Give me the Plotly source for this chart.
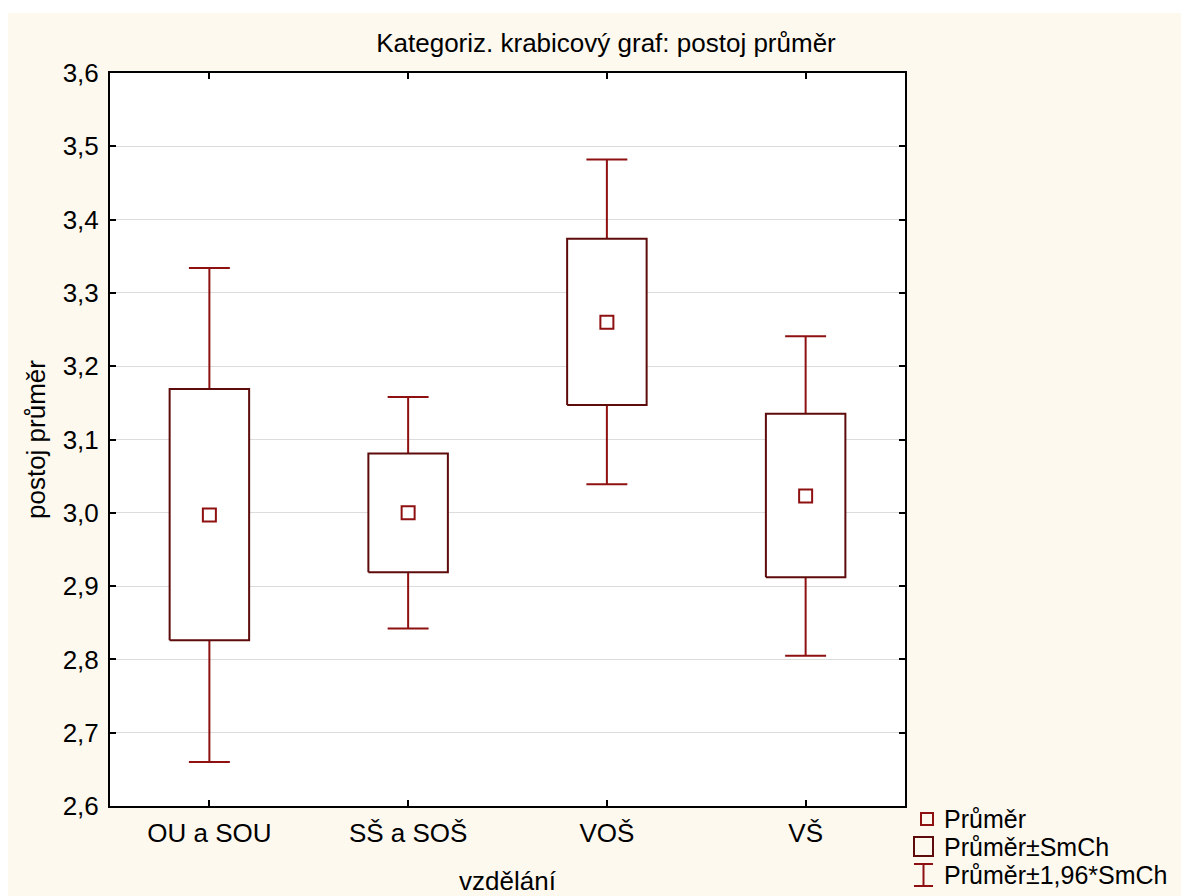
import plotly.graph_objects as go

# ---- data ----
categories = ["OU a SOU", "SŠ a SOŠ", "VOŠ", "VŠ"]
mean = [2.997, 3.000, 3.260, 3.023]
se_lo = [2.826, 2.919, 3.147, 2.912]
se_hi = [3.169, 3.081, 3.374, 3.135]
ci_lo = [2.660, 2.842, 3.039, 2.805]
ci_hi = [3.334, 3.158, 3.482, 3.241]

y_ticks = [2.6, 2.7, 2.8, 2.9, 3.0, 3.1, 3.2, 3.3, 3.4, 3.5, 3.6]

# ---- styles ----
W, H = 1181, 896
# plot area in page pixels: x 110..905, y 73..806
ML, MT = 110, 73
MR = W - 905
MB = H - 806
BG = "#FDF9EF"
BOX_C = "#5E0B0B"
RED_C = "#8E1010"
FONT = "Liberation Sans, Arial, sans-serif"
FS = 26
LEG_FS = 25
BOX_HALF = 0.2
CAP_HALF = 0.103

fig = go.Figure()

xs = list(range(len(categories)))

# whiskers (mean ± 1.96*SE) drawn from box edge to cap
wx, wy = [], []
for i in xs:
    wx += [i, i, None, i - CAP_HALF, i + CAP_HALF, None,
           i, i, None, i - CAP_HALF, i + CAP_HALF, None]
    wy += [se_hi[i], ci_hi[i], None, ci_hi[i], ci_hi[i], None,
           se_lo[i], ci_lo[i], None, ci_lo[i], ci_lo[i], None]
fig.add_trace(go.Scatter(x=wx, y=wy, mode="lines",
                         line=dict(color=RED_C, width=2),
                         hoverinfo="skip", showlegend=False))

# boxes (mean ± SE)
for i in xs:
    fig.add_trace(go.Scatter(
        x=[i - BOX_HALF, i + BOX_HALF, i + BOX_HALF, i - BOX_HALF, i - BOX_HALF],
        y=[se_lo[i], se_lo[i], se_hi[i], se_hi[i], se_lo[i]],
        mode="lines", fill="toself", fillcolor="white",
        line=dict(color=BOX_C, width=2),
        hoverinfo="skip", showlegend=False))

# means
fig.add_trace(go.Scatter(x=xs, y=mean, mode="markers",
                         marker=dict(symbol="square-open", size=13,
                                     color=RED_C, line=dict(width=2, color=RED_C)),
                         showlegend=False))

# ---- custom legend (page pixel -> paper helpers) ----
pw = W - ML - MR
ph = H - MT - MB


def px(xp):
    return (xp - ML) / pw


def py(yp):
    return (H - MB - yp) / ph


shapes = []
# white page border strips (beige area starts at x=8, y=13)
shapes.append(dict(type="rect", xref="paper", yref="paper",
                   x0=px(-2), x1=px(8), y0=py(H + 2), y1=py(-2),
                   fillcolor="white", line=dict(width=0), layer="below"))
shapes.append(dict(type="rect", xref="paper", yref="paper",
                   x0=px(-2), x1=px(W + 2), y0=py(13), y1=py(-2),
                   fillcolor="white", line=dict(width=0), layer="below"))

# item 1: mean marker
shapes.append(dict(type="rect", xref="paper", yref="paper",
                   x0=px(921), x1=px(933), y0=py(825), y1=py(813),
                   line=dict(color=RED_C, width=2), fillcolor="rgba(0,0,0,0)"))
# item 2: box
shapes.append(dict(type="rect", xref="paper", yref="paper",
                   x0=px(914), x1=px(933), y0=py(856), y1=py(837),
                   line=dict(color=BOX_C, width=2), fillcolor="rgba(0,0,0,0)"))
# item 3: I-beam
for (x0, y0, x1, y1) in [(923.5, 864, 923.5, 886), (914, 864, 933, 864), (914, 886, 933, 886)]:
    shapes.append(dict(type="line", xref="paper", yref="paper",
                       x0=px(x0), x1=px(x1), y0=py(y0), y1=py(y1),
                       line=dict(color=RED_C, width=2)))

legend_labels = ["Průměr", "Průměr±SmCh", "Průměr±1,96*SmCh"]
legend_y = [819, 847, 875]
annotations = []
for lab, yy in zip(legend_labels, legend_y):
    annotations.append(dict(text=lab, xref="paper", yref="paper",
                            x=px(943), y=py(yy), xanchor="left", yanchor="middle",
                            borderpad=0,
                            showarrow=False, font=dict(family=FONT, size=LEG_FS, color="black")))

fig.update_layout(
    width=W, height=H,
    margin=dict(l=ML, r=MR, t=MT, b=MB, pad=0, autoexpand=False),
    paper_bgcolor=BG, plot_bgcolor="white",
    separators=", ",
    font=dict(family=FONT, size=FS, color="black"),
    title=dict(text="Kategoriz. krabicový graf: postoj průměr",
               xref="container", yref="container",
               x=606 / W, y=1 - 43 / H, xanchor="center", yanchor="middle",
               font=dict(family=FONT, size=FS, color="black")),
    shapes=shapes, annotations=annotations,
    showlegend=False,
)

fig.update_xaxes(
    range=[-0.5, 3.5], tickvals=xs, ticktext=categories,
    ticks="inside", ticklen=6, tickwidth=2, tickcolor="black",
    showline=True, linecolor="black", linewidth=2, mirror="ticks",
    showgrid=False, zeroline=False, automargin=False,
    title=dict(text="vzdělání", standoff=33, font=dict(family=FONT, size=FS)),
    tickfont=dict(family=FONT, size=FS),
    ticklabelstandoff=3,
)
fig.update_yaxes(
    range=[2.6, 3.6], tickvals=y_ticks, tickformat=".1f",
    ticks="inside", ticklen=6, tickwidth=2, tickcolor="black",
    showline=True, linecolor="black", linewidth=2, mirror="ticks",
    showgrid=True, gridcolor="#DCDCDC", gridwidth=1, zeroline=False, automargin=False,
    title=dict(text="postoj průměr", standoff=10, font=dict(family=FONT, size=FS)),
    tickfont=dict(family=FONT, size=FS),
    ticklabelstandoff=4,
)

# remove the default 8px page margin so the 1181x896 figure fills the window exactly
fig.write_html("out.html",
               config={"displayModeBar": False},
               post_script="document.body.style.margin='0';document.body.style.overflow='hidden';")
